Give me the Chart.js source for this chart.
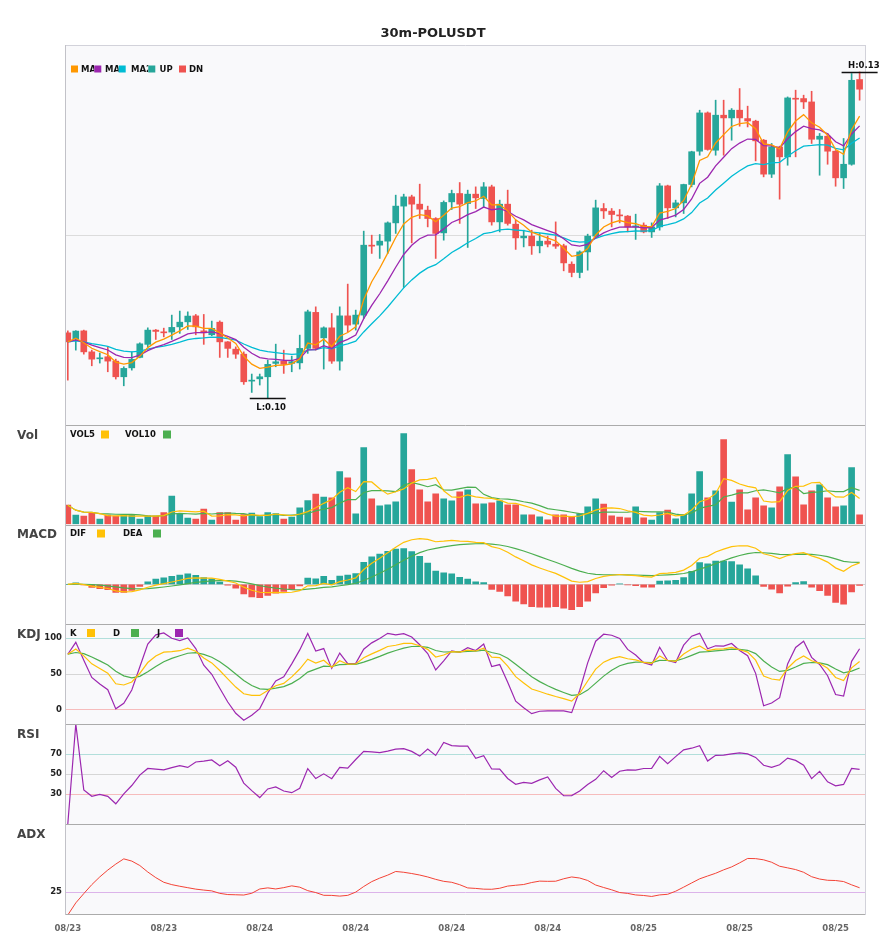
<!DOCTYPE html>
<html>
<head>
<meta charset="utf-8">
<title>30m-POLUSDT</title>
<script src="https://cdn.jsdelivr.net/npm/chart.js@4.4.1/dist/chart.umd.min.js"></script>
<style>
  html, body { margin: 0; padding: 0; background: #fff; }
  canvas { display: block; }
</style>
</head>
<body>
<canvas id="chart" width="885" height="950"></canvas>
<script>
// 30 minute candles, 100 bars
const opens = [
  0.10600, 0.10542, 0.10618, 0.10425, 0.10361, 0.10380, 0.10340, 0.10196, 0.10278, 0.10374,
  0.10494, 0.10625, 0.10607, 0.10607, 0.10655, 0.10701, 0.10756, 0.10618, 0.10582, 0.10698,
  0.10517, 0.10450, 0.10404, 0.10156, 0.10177, 0.10196, 0.10319, 0.10340, 0.10319, 0.10324,
  0.10457, 0.10788, 0.10554, 0.10646, 0.10340, 0.10756, 0.10680, 0.10763, 0.11403, 0.11406,
  0.11443, 0.11611, 0.11765, 0.11850, 0.11783, 0.11728, 0.11651, 0.11519, 0.11804, 0.11881,
  0.11789, 0.11875, 0.11835, 0.11942, 0.11620, 0.11783, 0.11599, 0.11473, 0.11489, 0.11400,
  0.11443, 0.11415, 0.11400, 0.11231, 0.11155, 0.11344, 0.11489, 0.11743, 0.11719, 0.11682,
  0.11673, 0.11574, 0.11590, 0.11528, 0.11574, 0.11951, 0.11749, 0.11795, 0.11964, 0.12270,
  0.12622, 0.12279, 0.12601, 0.12576, 0.12647, 0.12570, 0.12546, 0.12371, 0.12059, 0.12309,
  0.12218, 0.12754, 0.12754, 0.12723, 0.12380, 0.12408, 0.12270, 0.12025, 0.12150, 0.12929
];
const highs = [
  0.10618, 0.10620, 0.10625, 0.10441, 0.10414, 0.10471, 0.10358, 0.10288, 0.10425, 0.10508,
  0.10646, 0.10631, 0.10643, 0.10763, 0.10800, 0.10793, 0.10769, 0.10769, 0.10708, 0.10710,
  0.10520, 0.10471, 0.10425, 0.10221, 0.10221, 0.10349, 0.10496, 0.10441, 0.10386, 0.10579,
  0.10809, 0.10839, 0.10655, 0.10778, 0.10839, 0.11048, 0.10809, 0.11535, 0.11498, 0.11504,
  0.11620, 0.11866, 0.11875, 0.11866, 0.11967, 0.11765, 0.11659, 0.11813, 0.11912, 0.11982,
  0.11912, 0.11942, 0.11982, 0.11958, 0.11820, 0.11912, 0.11636, 0.11544, 0.11544, 0.11514,
  0.11489, 0.11620, 0.11415, 0.11253, 0.11354, 0.11507, 0.11820, 0.11789, 0.11743, 0.11734,
  0.11679, 0.11691, 0.11611, 0.11611, 0.11973, 0.11958, 0.11820, 0.11967, 0.12270, 0.12647,
  0.12631, 0.12739, 0.12739, 0.12662, 0.12846, 0.12684, 0.12555, 0.12378, 0.12341, 0.12316,
  0.12769, 0.12831, 0.12785, 0.12821, 0.12433, 0.12433, 0.12276, 0.12387, 0.12984, 0.12999
];
const lows = [
  0.10165, 0.10441, 0.10404, 0.10297, 0.10322, 0.10242, 0.10175, 0.10113, 0.10257, 0.10370,
  0.10471, 0.10539, 0.10563, 0.10539, 0.10595, 0.10631, 0.10582, 0.10494, 0.10574, 0.10374,
  0.10374, 0.10365, 0.10126, 0.10052, 0.10120, 0.10000, 0.10288, 0.10227, 0.10242, 0.10267,
  0.10411, 0.10441, 0.10267, 0.10319, 0.10257, 0.10609, 0.10625, 0.10732, 0.11330, 0.11284,
  0.11330, 0.11514, 0.11017, 0.11427, 0.11651, 0.11574, 0.11284, 0.11452, 0.11734, 0.11606,
  0.11385, 0.11743, 0.11758, 0.11590, 0.11528, 0.11590, 0.11367, 0.11390, 0.11321, 0.11335,
  0.11390, 0.11376, 0.11170, 0.11115, 0.11106, 0.11176, 0.11482, 0.11651, 0.11574, 0.11611,
  0.11528, 0.11459, 0.11519, 0.11477, 0.11544, 0.11651, 0.11666, 0.11697, 0.11942, 0.12233,
  0.12279, 0.12233, 0.12233, 0.12371, 0.12500, 0.12493, 0.12181, 0.12034, 0.12028, 0.11829,
  0.12141, 0.12218, 0.12662, 0.12341, 0.12049, 0.12150, 0.11948, 0.11927, 0.12141, 0.12739
];
const closes = [
  0.10517, 0.10616, 0.10425, 0.10358, 0.10368, 0.10340, 0.10196, 0.10273, 0.10356, 0.10499,
  0.10625, 0.10613, 0.10600, 0.10650, 0.10698, 0.10754, 0.10655, 0.10600, 0.10641, 0.10517,
  0.10457, 0.10404, 0.10150, 0.10165, 0.10196, 0.10310, 0.10334, 0.10310, 0.10334, 0.10457,
  0.10793, 0.10457, 0.10646, 0.10340, 0.10756, 0.10671, 0.10763, 0.11406, 0.11397, 0.11443,
  0.11611, 0.11765, 0.11850, 0.11783, 0.11737, 0.11651, 0.11514, 0.11799, 0.11881, 0.11783,
  0.11875, 0.11841, 0.11942, 0.11620, 0.11783, 0.11606, 0.11473, 0.11489, 0.11400, 0.11443,
  0.11415, 0.11397, 0.11243, 0.11155, 0.11344, 0.11489, 0.11749, 0.11721, 0.11688, 0.11675,
  0.11574, 0.11583, 0.11528, 0.11574, 0.11951, 0.11749, 0.11795, 0.11964, 0.12265, 0.12622,
  0.12286, 0.12601, 0.12576, 0.12647, 0.12576, 0.12548, 0.12365, 0.12059, 0.12309, 0.12218,
  0.12760, 0.12748, 0.12723, 0.12380, 0.12408, 0.12270, 0.12025, 0.12150, 0.12922, 0.12840
];
// volume, thousands
const volumes = [
  193, 93, 83, 117, 53, 93, 83, 93, 100, 53,
  87, 83, 120, 283, 110, 63, 53, 153, 43, 120,
  120, 43, 100, 113, 80, 120, 110, 53, 73, 167,
  240, 303, 273, 267, 527, 467, 107, 767, 257, 187,
  197, 227, 907, 547, 347, 227, 307, 257, 237, 327,
  347, 207, 207, 217, 237, 197, 197, 97, 97, 77,
  47, 97, 97, 77, 107, 177, 257, 203, 87, 73,
  67, 177, 67, 43, 120, 143, 57, 100, 307, 527,
  267, 337, 847, 223, 347, 147, 267, 187, 167, 377,
  697, 477, 197, 337, 397, 267, 177, 187, 567, 97
];
const dateTickAt = [0, 12, 24, 36, 48, 60, 72, 84, 96];
const dateTicks = ['08/23', '08/23', '08/24', '08/24', '08/24', '08/24', '08/25', '08/25', '08/25'];

const FONT = "'DejaVu Sans', sans-serif";
const UP = '#26a69a', DN = '#ef5350';
const ORANGE = '#ff9800', PURPLE = '#9c27b0', CYAN = '#00bcd4';
const YELLOW = '#ffc107', GREEN = '#4caf50', RED = '#f44336';

// indicators, worked out from the candles above
function sma(src, n) {
  return src.map(function(_, i) {
    const from = Math.max(0, i - n + 1);
    let s = 0;
    for (let k = from; k <= i; k++) s += src[k];
    return s / (i - from + 1);
  });
}

function ema(src, n) {
  const a = 2 / (n + 1);
  const out = [];
  src.forEach(function(v, i) {
    out.push(i === 0 ? v : out[i - 1] + a * (v - out[i - 1]));
  });
  return out;
}

function kdjOf(n) {
  const k = [], d = [], j = [];
  closes.forEach(function(c, i) {
    const from = Math.max(0, i - n + 1);
    const hh = Math.max(...highs.slice(from, i + 1));
    const ll = Math.min(...lows.slice(from, i + 1));
    const rsv = hh === ll ? 50 : (c - ll) / (hh - ll) * 100;
    const kv = i === 0 ? rsv : (2 * k[i - 1] + rsv) / 3;
    const dv = i === 0 ? rsv : (2 * d[i - 1] + kv) / 3;
    k.push(kv); d.push(dv); j.push(3 * kv - 2 * dv);
  });
  return { k, d, j };
}

function rsiOf(n) {
  return closes.map(function(c, i) {
    let up = 0, down = 0;
    for (let t = Math.max(1, i - n + 1); t <= i; t++) {
      const ch = closes[t] - closes[t - 1];
      if (ch > 0) up += ch; else down -= ch;
    }
    return up + down === 0 ? 0 : up / (up + down) * 100;
  });
}

function adxOf(n) {
  const tr = [], pdm = [], mdm = [];
  closes.forEach(function(c, i) {
    if (i === 0) { tr.push(highs[0] - lows[0]); pdm.push(0); mdm.push(0); return; }
    tr.push(Math.max(highs[i] - lows[i], Math.abs(highs[i] - closes[i - 1]), Math.abs(lows[i] - closes[i - 1])));
    const up = highs[i] - highs[i - 1], down = lows[i - 1] - lows[i];
    pdm.push(up > down && up > 0 ? up : 0);
    mdm.push(down > up && down > 0 ? down : 0);
  });
  const atr = sma(tr, n), ps = sma(pdm, n), ms = sma(mdm, n);
  const dx = atr.map(function(a, i) {
    const p = 100 * ps[i] / a, m = 100 * ms[i] / a;
    return p + m === 0 ? 0 : 100 * Math.abs(p - m) / (p + m);
  });
  return ema(dx, n);
}

// the price averages on this chart are exponential
const ma5 = ema(closes, 5), ma10 = ema(closes, 10), ma20 = ema(closes, 20);
const vol5 = sma(volumes, 5), vol10 = sma(volumes, 10);
const ema12 = ema(closes, 12), ema26 = ema(closes, 26);
const dif = ema12.map((v, i) => v - ema26[i]);
const dea = ema(dif, 9);
const macdHist = dif.map((v, i) => 2 * (v - dea[i]));
const kdj = kdjOf(9);
const rsi = rsiOf(14);
const adx = adxOf(14);

const candleColors = closes.map((c, i) => c >= opens[i] ? UP : DN);
const histColors = macdHist.map(v => v >= 0 ? UP : DN);

// axis ranges
const lo = Math.min(...lows), hi = Math.max(...highs), span = hi - lo;
const mainMin = lo - span * 0.0825, mainMax = hi + span * 0.0825;
const macdAll = dif.concat(dea, macdHist);
const mLo = Math.min(...macdAll), mHi = Math.max(...macdAll), mPad = (mHi - mLo) * 0.2;

const pts = arr => arr.map((v, i) => ({ x: i, y: v }));

function line(label, data, color, axis, width) {
  return {
    type: 'line', label: label, data: pts(data), yAxisID: axis,
    borderColor: color, borderWidth: width || 1.2, pointRadius: 0, tension: 0, order: 0
  };
}

function panelAxis(cfg) {
  return {
    type: 'linear',
    position: 'left',
    stack: 'panels',
    stackWeight: cfg.height,
    weight: cfg.weight,
    min: cfg.min,
    max: cfg.max,
    afterBuildTicks: s => { s.ticks = cfg.lines.map(v => ({ value: v })); },
    afterFit: s => { s.width = 65; },
    border: { display: false },
    grid: { drawTicks: false, color: c => cfg.colors[c.index] || 'transparent' },
    ticks: {
      display: !!cfg.labels, padding: 3, color: '#222',
      font: { family: FONT, size: 8.5, weight: 'bold' }
    }
  };
}

const panelTitles = { yVol: 'Vol', yMacd: 'MACD', yKdj: 'KDJ', yRsi: 'RSI', yAdx: 'ADX' };
const panelIds = ['yMain', 'yVol', 'yMacd', 'yKdj', 'yRsi', 'yAdx'];

const legends = {
  yMain: { dy: 24, size: 7, items: [
    { text: 'MA5', color: ORANGE, box: 71, at: 81, clip: 94.3 },
    { text: 'MA10', color: PURPLE, box: 94.3, at: 105, clip: 118.7 },
    { text: 'MA20', color: CYAN, box: 118.7, at: 131, clip: 148.3 },
    { text: 'UP', color: UP, box: 148.3, at: 159.5 },
    { text: 'DN', color: DN, box: 179, at: 189 }
  ] },
  yVol: { dy: 9.5, size: 8, items: [
    { text: 'VOL5', color: YELLOW, box: 101, at: 70 },
    { text: 'VOL10', color: GREEN, box: 163, at: 125 }
  ] },
  yMacd: { dy: 9, size: 8, items: [
    { text: 'DIF', color: YELLOW, box: 97, at: 70 },
    { text: 'DEA', color: GREEN, box: 153, at: 123 }
  ] },
  yKdj: { dy: 9, size: 8, items: [
    { text: 'K', color: YELLOW, box: 87, at: 70 },
    { text: 'D', color: GREEN, box: 131, at: 113 },
    { text: 'J', color: PURPLE, box: 175, at: 157 }
  ] }
};

const panelDecor = {
  id: 'panelDecor',
  beforeDraw(chart) {
    const { ctx, chartArea: a } = chart;
    ctx.save();
    ctx.fillStyle = '#f9f9fb';
    ctx.fillRect(a.left, a.top, a.right - a.left, a.bottom - a.top);
    ctx.restore();
  },
  afterDatasetsDraw(chart) {
    const { ctx, chartArea: a } = chart;
    const hline = (y, color) => {
      ctx.strokeStyle = color;
      ctx.beginPath(); ctx.moveTo(a.left, y); ctx.lineTo(a.right, y); ctx.stroke();
    };
    ctx.save();
    ctx.lineWidth = 1;
    hline(Math.round(a.top) + 0.5, '#d2d2da');
    panelIds.slice(1).forEach(id => hline(Math.round(chart.scales[id].top) + 0.5, '#ababab'));
    hline(Math.round(a.bottom) - 0.5, '#ababab');
    ctx.strokeStyle = '#c2c2c8';
    ctx.beginPath(); ctx.moveTo(a.left + 0.5, a.top); ctx.lineTo(a.left + 0.5, a.bottom); ctx.stroke();
    ctx.strokeStyle = '#d2d2da';
    ctx.beginPath(); ctx.moveTo(a.right - 0.5, a.top); ctx.lineTo(a.right - 0.5, a.bottom); ctx.stroke();
    ctx.restore();
  },
  afterDraw(chart) {
    const { ctx } = chart;
    ctx.save();
    ctx.textBaseline = 'middle';

    // panel names on the left
    ctx.font = 'bold 12px ' + FONT;
    ctx.fillStyle = '#444';
    ctx.textAlign = 'left';
    Object.keys(panelTitles).forEach(id => {
      ctx.fillText(panelTitles[id], 17, chart.scales[id].top + 10.5);
    });

    // legends inside each panel
    ctx.font = 'bold 8.5px ' + FONT;
    Object.keys(legends).forEach(id => {
      const lg = legends[id];
      const y = chart.scales[id].top + lg.dy;
      lg.items.forEach(it => {
        ctx.save();
        if (it.clip) {
          ctx.beginPath();
          ctx.rect(it.at, y - 8, it.clip - it.at, 16);
          ctx.clip();
        }
        ctx.fillStyle = '#111';
        ctx.fillText(it.text, it.at, y + 0.5);
        ctx.restore();
      });
      lg.items.forEach(it => {
        ctx.fillStyle = it.color;
        ctx.fillRect(it.box, y - lg.size / 2, lg.size, lg.size);
      });
    });

    // high / low markers
    const xs = chart.scales.x, ym = chart.scales.yMain;
    const mark = (idx, price, text, dy) => {
      const x = xs.getPixelForValue(idx), y = Math.round(ym.getPixelForValue(price)) + 0.5;
      ctx.strokeStyle = '#111';
      ctx.lineWidth = 1.5;
      ctx.beginPath(); ctx.moveTo(x - 18, y); ctx.lineTo(x + 18, y); ctx.stroke();
      ctx.fillStyle = '#111';
      ctx.fillText(text, x - 11.5, y + dy);
    };
    mark(highs.indexOf(hi), hi, 'H:' + hi.toFixed(2), -6.5);
    mark(lows.indexOf(lo), lo, 'L:' + lo.toFixed(2), 9);
    ctx.restore();
  }
};

Chart.defaults.font.family = FONT;

new Chart(document.getElementById('chart'), {
  type: 'bar',
  data: {
    datasets: [
      line('MA5', ma5, ORANGE, 'yMain', 1.3),
      line('MA10', ma10, PURPLE, 'yMain', 1.3),
      line('MA20', ma20, CYAN, 'yMain', 1.3),
      {
        label: 'body', yAxisID: 'yMain', order: 1, grouped: false,
        data: opens.map((o, i) => ({ x: i, y: [o, closes[i]] })),
        backgroundColor: candleColors, barThickness: 6, minBarLength: 1
      },
      {
        label: 'wick', yAxisID: 'yMain', order: 2, grouped: false,
        data: lows.map((l, i) => ({ x: i, y: [l, highs[i]] })),
        backgroundColor: candleColors, barThickness: 1
      },
      {
        label: 'Vol', yAxisID: 'yVol', order: 2, grouped: false,
        data: pts(volumes), backgroundColor: candleColors, barThickness: 6
      },
      line('VOL5', vol5, YELLOW, 'yVol'),
      line('VOL10', vol10, GREEN, 'yVol'),
      {
        label: 'MACD', yAxisID: 'yMacd', order: 2, grouped: false,
        data: pts(macdHist), backgroundColor: histColors, barThickness: 6
      },
      line('DIF', dif, YELLOW, 'yMacd'),
      line('DEA', dea, GREEN, 'yMacd'),
      line('K', kdj.k, YELLOW, 'yKdj'),
      line('D', kdj.d, GREEN, 'yKdj'),
      line('J', kdj.j, PURPLE, 'yKdj'),
      line('RSI', rsi, PURPLE, 'yRsi'),
      line('ADX', adx, RED, 'yAdx', 1)
    ]
  },
  options: {
    responsive: false,
    animation: false,
    layout: { padding: { top: 0, right: 19, bottom: 0, left: 0 } },
    plugins: {
      legend: { display: false },
      tooltip: { enabled: false },
      title: {
        display: true, text: '30m-POLUSDT', color: '#222',
        font: { family: FONT, size: 13, weight: 'bold' },
        padding: { top: 26, bottom: 3.4 }
      }
    },
    scales: {
      x: {
        type: 'linear', min: -0.35, max: 99.8, offset: false,
        grid: { display: false, offset: false },
        border: { display: false },
        afterBuildTicks: s => { s.ticks = dateTickAt.map(v => ({ value: v })); },
        afterFit: s => { s.height = 35; },
        ticks: {
          autoSkip: false, maxRotation: 0, padding: 1, color: '#666',
          font: { family: FONT, size: 8.5, weight: 'bold' },
          callback: (v, i) => dateTicks[i]
        }
      },
      yMain: panelAxis({ height: 380, weight: 6, min: mainMin, max: mainMax,
        lines: [(mainMin + mainMax) / 2], colors: ['#dcdcdc'] }),
      yVol: panelAxis({ height: 99.5, weight: 5, min: 0, max: Math.max(...volumes) * 1.095,
        lines: [0], colors: ['transparent'] }),
      yMacd: panelAxis({ height: 99.5, weight: 4, min: mLo - mPad, max: mHi + mPad,
        lines: [0], colors: ['#d0d0d0'] }),
      yKdj: panelAxis({ height: 100, weight: 3, min: -20, max: 120,
        lines: [0, 50, 100], colors: ['#f6bcbc', '#d6d6d6', '#b2dfdb'], labels: true }),
      yRsi: panelAxis({ height: 100, weight: 2, min: 0, max: 100,
        lines: [30, 50, 70], colors: ['#f6bcbc', '#d6d6d6', '#b2dfdb'], labels: true }),
      yAdx: panelAxis({ height: 91, weight: 1, min: 0, max: 100,
        lines: [25], colors: ['#dcb4ea'], labels: true })
    }
  },
  plugins: [panelDecor]
});
</script>
</body>
</html>
